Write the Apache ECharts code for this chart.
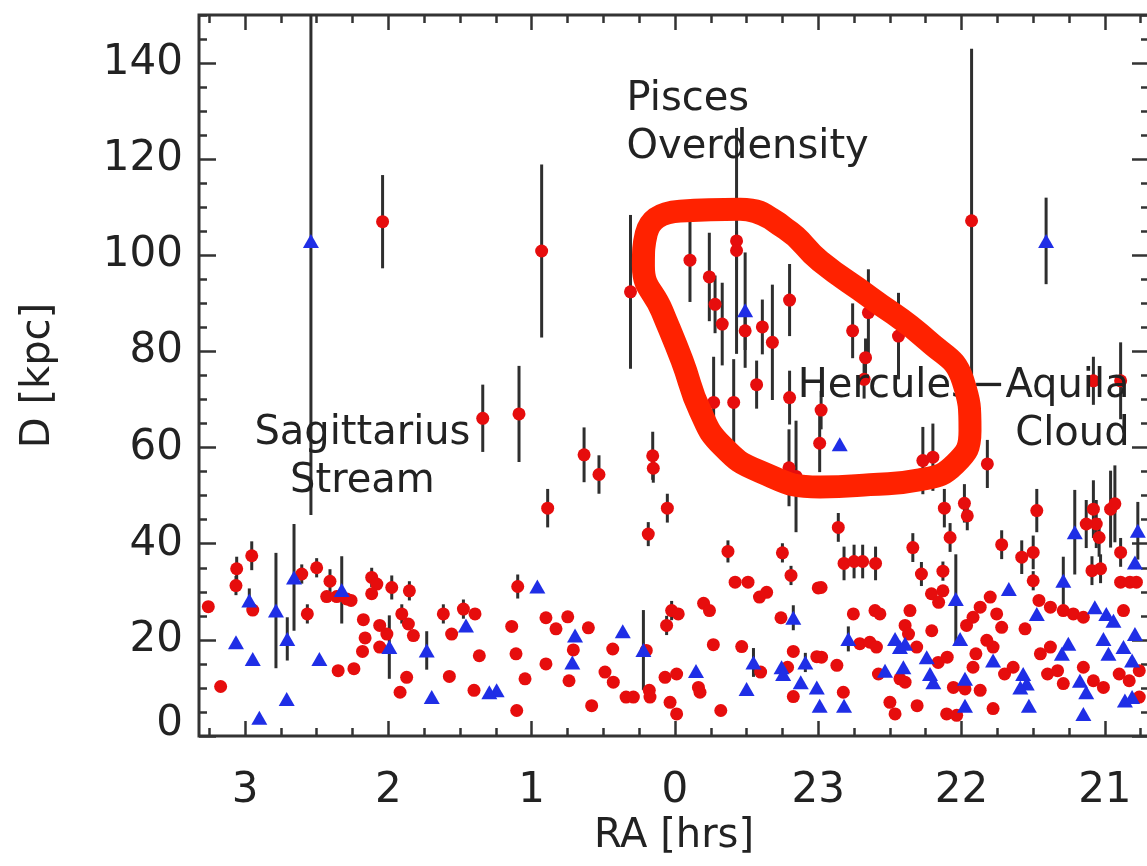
<!DOCTYPE html>
<html><head><meta charset="utf-8">
<script src="https://cdn.jsdelivr.net/npm/echarts@6/dist/echarts.min.js"></script>
<style>html,body{margin:0;padding:0;background:#fff}#c{width:1147px;height:866px}</style>
</head><body><div id="c"></div>
<script>
// ---------- axis ranges & ticks ----------
const RA_LEFT = 3.321, RA_RIGHT = -3.308;     // RA in hours; values > 12 h are shown as h-24
const D_MIN = 0, D_MAX = 150;
const raMajorTicks = [3, 2, 1, 0, 23, 22, 21];
const raMinorStep = 0.25;
const dMajorTicks = [0, 20, 40, 60, 80, 100, 120, 140];
const dMinorStep = 5;

// ---------- data: [RA (hours), D (kpc), error (kpc)] ----------
const redPoints = [
  [2.04,107,9.7],[0.93,100.9,18],[0.31,92.4,16],[21.93,107.2,35.8],
  [23.895,99,8.7],[23.76,95.5,9.2],[23.72,89.8,6],[23.67,85.7,8.6],
  [23.57,103,23.5],[23.57,101,4],[23.51,84.3,4],[23.39,85.1,5.7],
  [23.32,81.9,12],[23.20,90.7,7.5],[22.76,84.3,5.7],[22.65,88.1,9],
  [22.44,83.2,9],[22.67,78.7,4],[22.68,74.2,4],[23.43,73.1,5],
  [21.08,73.9,5],[20.89,73.9,8],
  [1.341,66.1,7],[1.088,67,10],[0.634,58.5,5.7],[0.53,54.4,4],[0.888,47.4,4],
  [0.155,58.3,5],[0.151,55.7,3],[0.053,47.4,3],[0.186,42,2.5],
  [23.73,69.4,9.5],[23.59,69.4,9],[23.20,70.4,5.6],[22.98,67.8,4],[22.99,60.9,6],
  [23.155,54,11.6],[23.204,55.8,8],
  [23.63,38.4,2.3],[23.25,38.1,2],[23.19,33.4,2],[23.58,32,0],[23.49,32,0],[23.41,28.9,0],[23.36,29.9,0],[23.0,30.8,0],
  [1.097,31.1,2.5],[1.139,22.8,0],[0.90,24.6,0],[0.83,22.3,0],[0.748,24.8,0],[0.604,22.5,0],[0.709,17.9,0],[0.739,11.5,0],
  [1.109,17.1,0],[0.90,15,0],[1.046,11.9,0],[1.104,5.3,0],[0.581,6.3,0],[0.488,13.3,0],[0.43,11.2,0],[0.434,18.1,0],
  [0.20,17.8,0],[0.341,8.1,0],[0.29,8.1,0],[0.179,9.5,0],[0.174,8.1,0],[0.034,7.0,0],[23.988,4.6,0],[0.069,12.2,0],
  [23.988,12.9,0],[0.058,23,2],[0.023,26.1,2],[23.977,25.4,0],[23.80,27.6,0],[23.759,26.1,0],[23.732,19,0],[23.68,5.3,0],
  [23.836,10.1,0],[23.825,9.1,0],[23.534,18.6,0],[23.402,13.3,0],[23.26,24.6,0],[23.174,17.6,0],[23.214,14.3,0],[23.01,16.5,0],[23.174,8.2,0],
  [3.256,26.9,0],[3.17,10.3,0],[3.058,34.8,2.5],[3.063,31.3,2],[2.953,37.5,3],[2.946,26.2,0],[2.565,25.4,2],[2.604,33.7,2],
  [2.50,35,2],[2.407,32.2,2.5],[2.43,29,0],[2.36,29,0],[2.29,28.5,0],[2.26,28.2,0],[2.35,13.6,0],[2.24,14,0],
  [2.174,24.2,0],[2.162,20.4,0],[2.18,17.6,0],[2.116,33,2],[2.08,31.6,0],[2.116,29.6,0],[2.06,23,0],[2.01,21.2,0],
  [2.06,18.5,0],[1.976,30.9,2.5],[1.853,30.2,2],[1.906,25.4,2],[1.86,23.3,0],[1.825,20.9,0],[1.872,12.2,0],[1.918,9.1,0],
  [1.616,25.4,2],[1.558,21.2,0],[1.574,12.4,0],[1.476,26.4,2],[1.395,25.4,0],[1.365,16.7,0],[1.402,9.5,0],
  [22.86,43.4,3],[22.82,35.9,3.5],[22.75,36.3,3.5],[22.69,36.3,3.5],[22.60,35.9,3.5],[22.98,30.9,0],[22.34,39.2,3],[22.28,33.7,2.5],
  [22.12,47.4,4],[22.08,41.3,3],[21.98,48.4,4],[21.96,45.8,3],[22.13,34.3,2],[22.21,29.6,0],[22.16,27.8,0],[22.13,30.2,0],
  [21.72,39.8,3],[21.58,37.2,3.5],[21.50,38.2,3.5],[21.50,32.3,2],[21.475,46.9,4.5],[21.08,47.2,6],[21.06,44.1,5],[21.13,44.1,5],
  [21.04,41.3,4],[20.96,47.2,8],[20.93,48.3,8],[21.09,34.4,3],[21.03,34.8,3],[20.89,38.2,3],[20.89,32,0],[20.825,32,0],[20.78,32,0],
  [22.27,57.3,7],[22.20,58,7],[21.82,56.6,5],
  [21.46,28.2,0],[21.38,26.8,0],[21.29,26.1,0],[21.22,25.4,0],[21.15,24.7,0],[20.87,26.1,0],[21.80,28.9,0],[21.87,26.8,0],
  [21.92,24.7,0],[21.965,23.0,0],[21.755,25.4,0],[21.72,22.6,0],[22.36,26.1,0],[22.394,23,0],[22.37,21.2,0],[22.208,21.9,0],
  [22.755,25.4,0],[22.604,26.1,0],[22.57,25.4,0],[22.71,19.2,0],[22.64,19.5,0],[22.594,18.5,0],[22.977,16.4,0],[22.87,14.7,0],
  [22.313,18.5,0],[22.58,12.9,0],[22.43,11.9,0],[22.394,11.2,0],[22.163,15.3,0],[22.10,16.4,0],[22.825,9.1,0],[22.50,7.0,0],
  [22.464,4.6,0],[22.31,6.3,0],[22.104,4.6,0],[22.034,4.3,0],[22.057,10.1,0],[21.976,9.8,0],[21.87,9.5,0],[21.92,14.3,0],
  [21.9,17.1,0],[21.78,18.5,0],[21.824,19.9,0],[21.78,5.7,0],[21.70,12.9,0],[21.64,14.3,0],[21.557,22.3,0],[21.45,17.1,0],
  [21.38,18.5,0],[21.40,12.9,0],[21.33,13.6,0],[21.29,10.9,0],[21.15,14.3,0],[21.08,11.5,0],[21.01,10.1,0],[20.90,12.9,0],
  [20.83,11.5,0],[20.76,13.6,0],[20.76,8.1,0]
];
const bluePoints = [
  [2.54,103,57],[21.41,103,9],[23.51,88.6,12],[22.85,60.7,0],
  [0.96,31.1,0],[0.697,20.9,0],[0.716,15.3,0],[1.244,9.5,0],[0.364,21.8,0],[0.22,17.9,8.3],
  [23.853,13.5,0],[23.452,15.3,3],[23.50,9.8,0],[23.174,24.6,2.6],[23.256,14.3,0],[23.245,12.9,0],
  [23.09,15.3,2],[23.122,11.2,0],[23.01,10.1,0],[22.99,6.3,0],
  [2.97,28.2,2.5],[3.063,19.5,0],[2.946,16,0],[2.90,3.8,0],[2.784,26.1,12],[2.705,20.2,4.5],[2.709,7.7,0],
  [2.658,33,11.1],[2.481,16,0],[2.325,30.4,7],[1.993,18.5,6.6],[1.732,17.8,4],[1.697,8.1,0],[1.458,23,0],[1.295,9.1,0],
  [22.04,28.5,9.3],[22.01,20.2,0],[21.67,30.6,0],[21.21,42.4,8.8],[20.79,36.1,0],[20.77,42.7,6],[21.29,32.3,5],
  [21.475,25.4,0],[21.07,26.8,0],[20.99,25.4,0],[20.79,21.2,0],[22.79,20.2,2.6],[22.464,20.2,0],[22.43,18.5,0],
  [22.394,19.2,0],[22.534,13.6,0],[22.406,14.3,0],[22.243,16.4,0],[22.22,12.9,0],[22.197,11.2,0],[22.82,6.3,0],
  [21.976,11.9,0],[21.976,6.3,0],[21.78,15.7,0],[21.57,12.9,0],[21.545,10.9,0],[21.59,10.1,0],[21.53,6.3,0],
  [21.255,19.2,0],[21.30,17.1,0],[21.174,11.5,0],[21.13,9.1,0],[21.15,4.6,0],[21.01,20.2,0],[20.975,17.1,0],
  [20.94,24,0],[20.87,18.5,0],[20.81,15.7,0],[20.86,7.4,0],[20.81,8.1,0]
];
// hand-drawn loop annotation, in data units [RA hours, D]
const loopPath = [
  [23.546,109.6],[23.232,105.6],[22.987,98.8],[22.639,91.3],[22.234,82.2],[21.99,73.9],
  [21.941,63.5],[22.045,56.6],[22.29,53.3],[22.639,52.3],[22.987,51.8],[23.406,55.0],
  [23.671,60.4],[23.825,67.7],[23.95,78.1],[0.09,88.4],[0.22,97.8],[0.2,104.5],[23.964,109.2]
];
const annotations = [
  {text: 'Pisces\nOverdensity', ra: 0.334, d: 137.3, align: 'left'},
  {text: 'Sagittarius\nStream', ra: 2.177, d: 67.9, align: 'center'},
  {text: 'Hercules\u2212Aquila\nCloud', ra: 20.824, d: 77.6, align: 'right'}
];

// ---------- helpers ----------
const toX = h => (h > 12 ? h - 24 : h);
const AX = '#333';
const TXT = '#222';
const FONT = 'DejaVu Sans';
const raMajorX = raMajorTicks.map(toX);
const raMinorX = [];
for (let v = -3.25; v <= 3.25 + 1e-9; v += raMinorStep) {
  const r = Math.round(v * 100) / 100;
  if (Math.abs(r - Math.round(r)) > 1e-6) raMinorX.push(r);
}
const dMinor = [];
for (let v = D_MIN; v <= D_MAX; v += dMinorStep) if (v % 20 !== 0) dMinor.push(v);

function xAx(pos, ticks, len, withLabels) {
  const a = {
    type: 'value', position: pos, offset: 0, min: RA_RIGHT, max: RA_LEFT, inverse: true,
    axisLine: {show: false, onZero: false}, splitLine: {show: false},
    axisTick: {show: true, inside: true, length: len, customValues: ticks, lineStyle: {color: AX, width: 2.5}},
    axisLabel: {show: false}
  };
  if (withLabels) {
    a.axisLabel = {show: true, customValues: raMajorX, margin: 34, color: TXT, fontSize: 42, fontFamily: FONT,
      formatter: v => String(Math.round(v < 0 ? v + 24 : v))};
    a.name = 'RA [hrs]'; a.nameLocation = 'middle'; a.nameGap = 76;
    a.nameTextStyle = {fontSize: 40, fontFamily: FONT, color: TXT};
  }
  return a;
}
function yAx(pos, ticks, len, withLabels) {
  const a = {
    type: 'value', position: pos, offset: 0, min: D_MIN, max: D_MAX,
    axisLine: {show: false, onZero: false}, splitLine: {show: false},
    axisTick: {show: true, inside: true, length: len, customValues: ticks, lineStyle: {color: AX, width: 2.5}},
    axisLabel: {show: false}
  };
  if (withLabels) {
    a.axisLabel = {show: true, customValues: dMajorTicks, margin: 16, color: TXT, fontSize: 42, fontFamily: FONT,
      formatter: v => (v === 0 ? '{z|0}' : String(v)),
      rich: {z: {fontSize: 42, fontFamily: FONT, color: TXT, padding: [0, 0, 24, 0]}}};
    a.name = 'D [kpc]'; a.nameLocation = 'middle'; a.nameGap = 140;
    a.nameTextStyle = {fontSize: 40, fontFamily: FONT, color: TXT};
  }
  return a;
}

const errData = redPoints.concat(bluePoints).filter(p => p[2] > 0).map(p => [toX(p[0]), p[1], p[2]]);

const chart = echarts.init(document.getElementById('c'), null, {renderer: 'canvas'});
const loopData = loopPath.map(p => [toX(p[0]), p[1]]);
const loopClosed = [loopData[loopData.length - 1]].concat(loopData, [loopData[0], loopData[1]]);

chart.setOption({
  animation: false,
  backgroundColor: '#fff',
  grid: {left: 199, top: 15, right: -2, bottom: 130, containLabel: false, outerBoundsMode: 'none',
    show: true, borderColor: AX, borderWidth: 3, backgroundColor: 'transparent'},
  xAxis: [xAx('bottom', raMajorX, 15, true), xAx('bottom', raMinorX, 8, false),
          xAx('top', raMajorX, 15, false), xAx('top', raMinorX, 8, false)],
  yAxis: [yAx('left', dMajorTicks, 17, true), yAx('left', dMinor, 8, false),
          yAx('right', dMajorTicks, 17, false), yAx('right', dMinor, 8, false)],
  series: [
    {
      type: 'custom', xAxisIndex: 0, yAxisIndex: 0, silent: true, z: 2,
      data: errData, encode: {x: 0, y: 1},
      renderItem: (params, api) => {
        const x = api.value(0), y = api.value(1), e = api.value(2);
        const p1 = api.coord([x, Math.min(y + e, D_MAX)]);
        const p2 = api.coord([x, Math.max(y - e, D_MIN)]);
        return {type: 'line', shape: {x1: p1[0], y1: p1[1], x2: p2[0], y2: p2[1]},
          style: {stroke: '#2e2e2e', lineWidth: 3}};
      }
    },
    {
      type: 'scatter', silent: true, z: 3, symbol: 'circle', symbolSize: 13,
      itemStyle: {color: '#e60d0d', opacity: 1},
      data: redPoints.map(p => [toX(p[0]), p[1]])
    },
    {
      type: 'scatter', silent: true, z: 4, symbol: 'triangle', symbolSize: [16, 14],
      itemStyle: {color: '#1f2ee6', opacity: 1},
      data: bluePoints.map(p => [toX(p[0]), p[1]])
    },
    {
      type: 'scatter', silent: true, z: 5, symbolSize: 1, itemStyle: {color: 'rgba(0,0,0,0)'},
      label: {show: true, position: [0, 0], verticalAlign: 'top', fontSize: 40, lineHeight: 48,
        fontFamily: FONT, color: TXT, opacity: 1, formatter: p => p.data.name},
      data: annotations.map(a => ({name: a.text, value: [toX(a.ra), a.d],
        label: {align: a.align, color: TXT}}))
    },
    {
      type: 'line', silent: true, z: 10, smooth: 0.5, symbol: 'none', showSymbol: false,
      lineStyle: {color: '#ff2200', width: 23, cap: 'round', join: 'round'},
      data: loopClosed
    }
  ]
});
</script></body></html>
